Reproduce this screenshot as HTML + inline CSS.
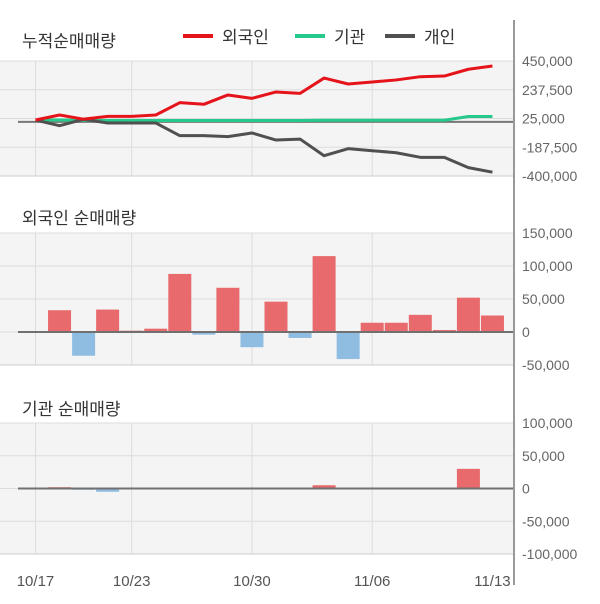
<!DOCTYPE html>
<html><head><meta charset="utf-8"><style>
body{margin:0;background:#fff;}
svg{display:block;font-family:"Liberation Sans","Noto Sans CJK KR",sans-serif;}
</style></head><body>
<svg id="c" width="600" height="604" viewBox="0 0 600 604"></svg>
<script>
const dates = ['10/17','10/18','10/19','10/20','10/23','10/24','10/25','10/26','10/27','10/30','10/31','11/01','11/02','11/03','11/06','11/07','11/08','11/09','11/10','11/13'];
const tickDates = ['10/17','10/23','10/30','11/06','11/13'];
const gridDates = ['10/17','10/23','10/30','11/06'];
const cumForeign = [14,51,20,41,41,51,142,130,199,174,221,211,324,280,295,310,334,339,389,413];
const cumInst = [14,14,12,10,10,10,10,10,10,10,10,10,12,12,12,12,12,12,40,40];
const cumIndiv = [14,-28,19,-8,-8,-8,-102,-102,-109,-82,-134,-127,-250,-198,-213,-228,-262,-262,-338,-372];
const foreignNet = [0,33,-36,34,2,5,88,-4,67,-23,46,-9,115,-41,14,14,26,3,52,25];
const instNet = [0,2,-2,-5,0,0,0,0,0,0,0,0,5,0,0,0,0,0,30,0];
const topTicks = [450000,237500,25000,-187500,-400000];
const midTicks = [150000,100000,50000,0,-50000];
const botTicks = [100000,50000,0,-50000,-100000];

const svg = document.getElementById('c');
const NS = 'http://www.w3.org/2000/svg';
function mk(tag, attrs, parent){const e=document.createElementNS(NS,tag);for(const k in attrs)e.setAttribute(k,attrs[k]);(parent||svg).appendChild(e);return e;}
const X = i => 35.5 + 24.05*i;
const fmt = v => v.toLocaleString('en-US');
function lin(d0,d1,r0,r1){return v=>r0+(v-d0)*(r1-r0)/(d1-d0);}

function panel(name, top, bottom, ticks, yf){
  const g = mk('g',{});
  
  
  mk('rect',{x:0,y:top,width:514,height:bottom-top,fill:'#f4f4f4'},g);
  ticks.forEach(t=>{
    const y=yf(t);
    mk('line',{x1:0,x2:514,y1:y,y2:y,stroke:'#dcdcdc','stroke-width':1},g);
    const tx=mk('text',{x:522,y:y+5,'font-size':14,fill:'#666'},g);
    tx.textContent=fmt(t);
    
    
  });
  gridDates.forEach(d=>{
    const x=X(dates.indexOf(d));
    mk('line',{x1:x,x2:x,y1:top,y2:bottom,stroke:'#dcdcdc','stroke-width':1},g);
  });
  mk('line',{x1:0,x2:514,y1:bottom,y2:bottom,stroke:'#ccc','stroke-width':1},g);
  return g;
}

const yT = lin(450000,-400000,61,176);
panel('cumulative', 61, 176, topTicks, yT);
mk('line',{x1:18,x2:514,y1:yT(0),y2:yT(0),stroke:'#777','stroke-width':2});
function series(arr,color,name){
  const p = mk('polyline',{points:arr.map((v,i)=>X(i)+','+yT(v*1000)).join(' '),fill:'none',stroke:color,'stroke-width':3,'stroke-linejoin':'round'});
  
  
}
series(cumInst,'#25c98b','institution-cumulative-line');
series(cumIndiv,'#505050','individual-cumulative-line');
series(cumForeign,'#e5141b','foreign-cumulative-line');

function bars(arr, yf, top, bottom, ticks, name){
  panel(name, top, bottom, ticks, yf);
  arr.forEach((v,i)=>{
    if(!v) return;
    const y0=yf(0), y1=yf(v*1000);
    const r=mk('rect',{x:X(i)-11.5,y:Math.min(y0,y1),width:23,height:Math.abs(y1-y0),fill:v>0?'#e86a6c':'#8fbde1'});
    
    
  });
  mk('line',{x1:18,x2:514,y1:yf(0),y2:yf(0),stroke:'#707070','stroke-width':2});
}
bars(foreignNet, lin(150000,-50000,233,365), 233, 365, midTicks, 'foreign-net');
bars(instNet, lin(100000,-100000,423,554), 423, 554, botTicks, 'institution-net');

mk('line',{x1:514,x2:514,y1:20,y2:585,stroke:'#999','stroke-width':2});

tickDates.forEach(d=>{
  const t=mk('text',{x:X(dates.indexOf(d)),y:586,'font-size':15,fill:'#555','text-anchor':'middle'});
  t.textContent=d;
  
  
});

[['누적순매매량',47,'cumulative-title'],['외국인 순매매량',224,'foreign-title'],['기관 순매매량',415,'institution-title']].forEach(a=>{
  const t=mk('text',{x:22,y:a[1],'font-size':17,fill:'#333'});
  t.textContent=a[0];
  
  
});

[['외국인','#e5141b',183],['기관','#25c98b',295],['개인','#505050',385]].forEach(l=>{
  const g=mk('g',{});
  
  
  mk('line',{x1:l[2],x2:l[2]+30,y1:36,y2:36,stroke:l[1],'stroke-width':4},g);
  const t=mk('text',{x:l[2]+39,y:43,'font-size':17,fill:'#333'},g);
  t.textContent=l[0];
});
</script>
</body></html>
